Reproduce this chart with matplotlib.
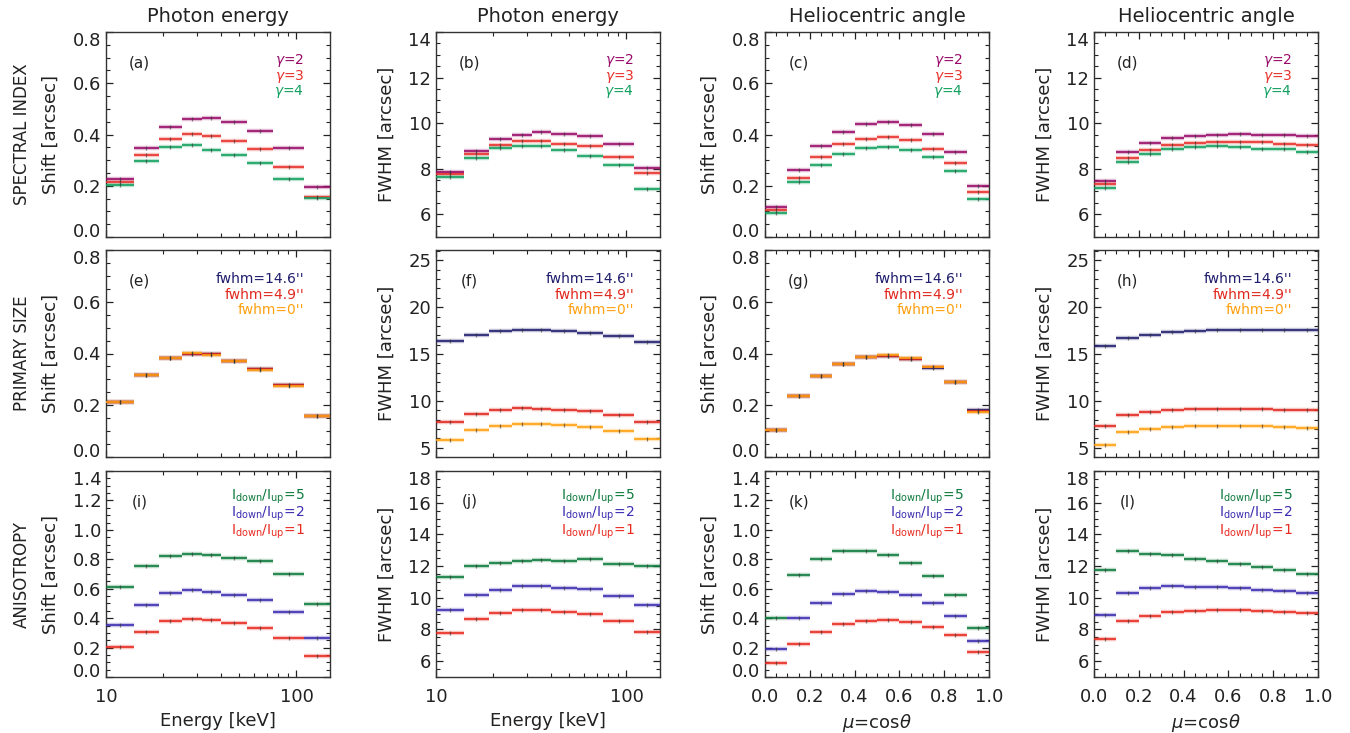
import matplotlib
matplotlib.use('Agg')
import matplotlib.pyplot as plt
from matplotlib.ticker import MultipleLocator, FixedLocator, NullFormatter, LogLocator, FormatStrFormatter
import numpy as np

plt.rcParams['font.family'] = ['DejaVu Sans']
plt.rcParams['mathtext.default'] = 'it'

# ---------------- data ----------------
energy_edges = [10, 14, 19, 25, 32, 40, 55, 75, 110, 150]
mu_edges = [0.0, 0.1, 0.2, 0.3, 0.4, 0.5, 0.6, 0.7, 0.8, 0.9, 1.0]

# Row 1: spectral index
a_g2 = [0.226, 0.346, 0.430, 0.462, 0.466, 0.449, 0.414, 0.346, 0.194]
a_g3 = [0.214, 0.320, 0.383, 0.403, 0.395, 0.373, 0.342, 0.275, 0.157]
a_g4 = [0.204, 0.298, 0.351, 0.360, 0.341, 0.321, 0.288, 0.226, 0.154]

b_g2 = [7.85, 8.77, 9.31, 9.50, 9.60, 9.53, 9.43, 9.08, 8.04]
b_g3 = [7.75, 8.66, 9.04, 9.23, 9.20, 9.08, 8.98, 8.50, 7.82]
b_g4 = [7.64, 8.48, 8.89, 8.98, 8.99, 8.82, 8.57, 8.18, 7.12]

c_g2 = [0.117, 0.263, 0.355, 0.411, 0.442, 0.450, 0.437, 0.402, 0.333, 0.200]
c_g3 = [0.104, 0.232, 0.311, 0.361, 0.384, 0.390, 0.380, 0.344, 0.290, 0.175]
c_g4 = [0.092, 0.213, 0.280, 0.324, 0.349, 0.350, 0.340, 0.313, 0.259, 0.149]

d_g2 = [7.46, 8.72, 9.11, 9.33, 9.45, 9.50, 9.52, 9.50, 9.47, 9.42]
d_g3 = [7.34, 8.48, 8.83, 9.05, 9.14, 9.18, 9.18, 9.15, 9.09, 9.04]
d_g4 = [7.17, 8.29, 8.64, 8.85, 8.93, 8.99, 8.95, 8.86, 8.85, 8.74]

# Row 2: primary size
e_f146 = [0.213, 0.318, 0.382, 0.400, 0.398, 0.371, 0.342, 0.278, 0.158]
e_f49 = [0.213, 0.318, 0.382, 0.400, 0.397, 0.371, 0.339, 0.277, 0.158]
e_f0 = [0.213, 0.318, 0.381, 0.401, 0.395, 0.371, 0.336, 0.276, 0.157]

f_f146 = [16.35, 17.03, 17.42, 17.53, 17.53, 17.42, 17.28, 16.92, 16.28]
f_f49 = [7.70, 8.63, 8.99, 9.20, 9.16, 9.06, 8.95, 8.49, 7.78]
f_f0 = [5.78, 6.85, 7.28, 7.53, 7.53, 7.38, 7.24, 6.74, 5.93]

g_f146 = [0.104, 0.236, 0.313, 0.361, 0.387, 0.392, 0.378, 0.343, 0.290, 0.180]
g_f49 = [0.104, 0.235, 0.313, 0.361, 0.387, 0.392, 0.380, 0.346, 0.291, 0.177]
g_f0 = [0.104, 0.234, 0.312, 0.360, 0.388, 0.393, 0.382, 0.349, 0.291, 0.175]

h_f146 = [15.82, 16.67, 17.03, 17.31, 17.49, 17.53, 17.56, 17.60, 17.60, 17.60]
h_f49 = [7.28, 8.45, 8.81, 9.02, 9.13, 9.13, 9.09, 9.09, 9.02, 8.99]
h_f0 = [5.25, 6.64, 6.99, 7.21, 7.31, 7.35, 7.35, 7.35, 7.24, 7.14]

# Row 3: anisotropy
i_r5 = [0.611, 0.753, 0.822, 0.838, 0.831, 0.810, 0.787, 0.700, 0.497]
i_r2 = [0.355, 0.492, 0.570, 0.593, 0.581, 0.556, 0.522, 0.439, 0.265]
i_r1 = [0.206, 0.309, 0.378, 0.396, 0.387, 0.364, 0.336, 0.265, 0.146]

j_r5 = [11.31, 12.02, 12.19, 12.35, 12.38, 12.33, 12.44, 12.15, 12.02]
j_r2 = [9.23, 10.20, 10.52, 10.73, 10.73, 10.63, 10.58, 10.10, 9.52]
j_r1 = [7.77, 8.67, 9.06, 9.25, 9.21, 9.10, 9.00, 8.52, 7.87]

k_r5 = [0.400, 0.693, 0.805, 0.856, 0.858, 0.826, 0.778, 0.684, 0.554, 0.330]
k_r2 = [0.188, 0.398, 0.503, 0.563, 0.584, 0.577, 0.556, 0.501, 0.414, 0.243]
k_r1 = [0.096, 0.227, 0.304, 0.357, 0.380, 0.384, 0.375, 0.343, 0.286, 0.169]

l_r5 = [11.77, 12.92, 12.79, 12.69, 12.46, 12.29, 12.10, 11.92, 11.73, 11.52]
l_r2 = [8.94, 10.33, 10.63, 10.73, 10.71, 10.69, 10.60, 10.52, 10.40, 10.29]
l_r1 = [7.38, 8.52, 8.88, 9.08, 9.15, 9.21, 9.21, 9.17, 9.13, 9.04]

col_titles = ['Photon energy', 'Photon energy', 'Heliocentric angle', 'Heliocentric angle']
row_titles = ['SPECTRAL INDEX', 'PRIMARY SIZE', 'ANISOTROPY']
panel_letters = ['(a)', '(b)', '(c)', '(d)', '(e)', '(f)', '(g)', '(h)', '(i)', '(j)', '(k)', '(l)']

row1_labels = [r'$\gamma$=2', r'$\gamma$=3', r'$\gamma$=4']
row2_labels = ["fwhm=14.6''", "fwhm=4.9''", "fwhm=0''"]
row3_labels = [r'$\mathrm{I_{down}/I_{up}}$=5', r'$\mathrm{I_{down}/I_{up}}$=2', r'$\mathrm{I_{down}/I_{up}}$=1']

row1_colors = ['#980a68', '#e8302a', '#12a05e']
row2_colors = ['#1e1c6c', '#e0281e', '#ffa010']
row3_colors = ['#0c7a3c', '#3a2cb0', '#e82a20']

data = [
    [[a_g2, a_g3, a_g4], [b_g2, b_g3, b_g4], [c_g2, c_g3, c_g4], [d_g2, d_g3, d_g4]],
    [[e_f146, e_f49, e_f0], [f_f146, f_f49, f_f0], [g_f146, g_f49, g_f0], [h_f146, h_f49, h_f0]],
    [[i_r5, i_r2, i_r1], [j_r5, j_r2, j_r1], [k_r5, k_r2, k_r1], [l_r5, l_r2, l_r1]],
]
row_labels = [row1_labels, row2_labels, row3_labels]
row_colors = [row1_colors, row2_colors, row3_colors]

# y-axis settings per row: (shift, fwhm)
ylims = [[(0, 0.8), (5, 14)], [(0, 0.8), (4, 26.1)], [(0, 1.4), (5, 18)]]
yticks = [[[0.0, 0.2, 0.4, 0.6, 0.8], [6, 8, 10, 12, 14]],
          [[0.0, 0.2, 0.4, 0.6, 0.8], [5, 10, 15, 20, 25]],
          [[0.0, 0.2, 0.4, 0.6, 0.8, 1.0, 1.2, 1.4], [6, 8, 10, 12, 14, 16, 18]]]
ymin = [[0.05, 0.5], [0.05, 1], [0.05, 0.5]]
ylabels = ['Shift [arcsec]', 'FWHM [arcsec]']

# ---------------- layout ----------------
W, H = 1350, 733
fig = plt.figure(figsize=(W / 100, H / 100), dpi=100)
col_left = [106, 436, 765, 1094]
col_w = 224
row_top = [32, 250, 471]
row_h = [205, 207, 206]

for r in range(3):
    for c in range(4):
        l = col_left[c] / W
        b = 1 - (row_top[r] + row_h[r]) / H
        ax = fig.add_axes([l, b, col_w / W, row_h[r] / H])
        is_energy = c < 2
        edges = energy_edges if is_energy else mu_edges
        kind = c % 2  # 0 shift, 1 fwhm
        for s, (vals, col) in enumerate(zip(data[r][c], row_colors[r])):
            lo = np.array(edges[:-1])
            hi = np.array(edges[1:])
            ax.hlines(vals, lo, hi, colors=col, lw=3.2, alpha=0.28, zorder=2)
            ax.hlines(vals, lo, hi, colors=col, lw=1.2, zorder=3)
            if is_energy:
                ctr = np.sqrt(lo * hi)
            else:
                ctr = 0.5 * (lo + hi)
            ax.plot(ctr, vals, ls='none', marker='|', ms=3.5, mew=0.9, color='#333333', alpha=0.6, zorder=4)
        if is_energy:
            ax.set_xscale('log')
            ax.set_xlim(10, 150)
            ax.xaxis.set_major_locator(FixedLocator([10, 100]))
            ax.xaxis.set_minor_locator(LogLocator(base=10, subs=np.arange(2, 10)))
            ax.xaxis.set_minor_formatter(NullFormatter())
            ax.set_xticklabels(['10', '100'])
        else:
            ax.set_xlim(0, 1)
            ax.xaxis.set_major_locator(MultipleLocator(0.2))
            ax.xaxis.set_minor_locator(MultipleLocator(0.05))
            ax.xaxis.set_major_formatter(FormatStrFormatter('%.1f'))
        lo_y, hi_y = ylims[r][kind]
        ax.set_ylim(lo_y, hi_y)
        ticks = yticks[r][kind]
        ax.yaxis.set_major_locator(FixedLocator(ticks))
        ax.yaxis.set_minor_locator(MultipleLocator(ymin[r][kind]))
        ax.yaxis.set_major_formatter(FormatStrFormatter('%.1f' if kind == 0 else '%d'))
        ax.tick_params(which='both', direction='in', top=True, right=True, labelsize=13, colors='#222222')
        ax.tick_params(which='major', length=5, width=0.9)
        ax.tick_params(which='minor', length=2.8, width=0.8)
        ax.tick_params(axis='x', pad=8)
        # keep edge tick labels inside the axis height (as in the original)
        span = hi_y - lo_y
        for tv, tk in zip(ticks, ax.yaxis.get_major_ticks()):
            if tv - lo_y < 0.03 * span:
                tk.label1.set_verticalalignment('baseline')
            elif hi_y - tv < 0.03 * span:
                tk.label1.set_verticalalignment('top')
        for sp in ax.spines.values():
            sp.set_linewidth(1.0)
            sp.set_color('#333333')
        ax.set_ylabel(ylabels[kind], fontsize=13, labelpad=9, color='#222222')
        if r < 2:
            ax.tick_params(axis='x', labelbottom=False)
        else:
            ax.set_xlabel('Energy [keV]' if is_energy else r'$\mu$=cos$\theta$', fontsize=13, color='#222222')
        if r == 0:
            ax.set_title(col_titles[c], fontsize=14, pad=7, color='#222222')
        ax.text(0.15, 0.85, panel_letters[r * 4 + c], transform=ax.transAxes,
                ha='center', va='center', fontsize=11, color='#222222')
        if r < 2:
            ypos = [0.86, 0.785, 0.71]
        else:
            ypos = [0.875, 0.79, 0.705]
        for s, (lab, col) in enumerate(zip(row_labels[r], row_colors[r])):
            ax.text(0.885, ypos[s], lab, transform=ax.transAxes, ha='right', va='center',
                    fontsize=10, color=col)

for r in range(3):
    yc = 1 - (row_top[r] + row_h[r] / 2) / H
    fig.text(22 / W, yc, row_titles[r], rotation=90, ha='center', va='center', fontsize=12, color='#222222')

fig.savefig('out.png', dpi=100)
